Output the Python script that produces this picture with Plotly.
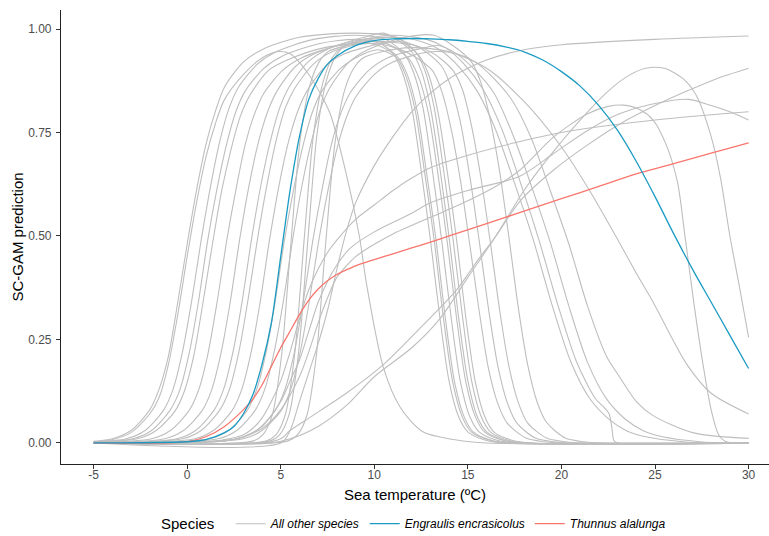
import plotly.graph_objects as go

# ---------------- data ----------------
x_tick_vals = [-5, 0, 5, 10, 15, 20, 25, 30]
x_tick_text = ["-5", "0", "5", "10", "15", "20", "25", "30"]
y_tick_vals = [0, 0.25, 0.5, 0.75, 1.0]
y_tick_text = ["0.00", "0.25", "0.50", "0.75", "1.00"]

# grey curves: "All other species"
g01_x = [-5, -4, -3, -2, -1.5, -1, -0.5, 0, 0.5, 1, 1.5, 2, 3, 4, 6, 9, 11.2, 12.2, 12.7, 13.2, 13.7, 14.2, 14.7, 15.2, 15.7, 16.2, 17.2, 18.5, 30]
g01_y = [0.004, 0.01, 0.03, 0.08, 0.13, 0.21, 0.34, 0.48, 0.61, 0.72, 0.80, 0.86, 0.92, 0.95, 0.98, 0.99, 0.98, 0.945, 0.90, 0.81, 0.66, 0.495, 0.31, 0.15, 0.065, 0.027, 0.006, 0, 0]

g02_x = [-5, -4, -3, -2, -1.5, -1, -0.5, 0, 0.5, 1, 1.5, 2, 3, 4, 4.8, 5.5, 6.5, 7.6, 8.5, 9.2, 9.6, 10.5, 11.4, 12.6, 14.4, 16, 30]
g02_y = [0.003, 0.008, 0.025, 0.07, 0.11, 0.19, 0.31, 0.45, 0.58, 0.69, 0.77, 0.83, 0.89, 0.93, 0.945, 0.94, 0.89, 0.80, 0.65, 0.5, 0.38, 0.18, 0.085, 0.027, 0.007, 0, 0]

g03_x = [-5, -3.25, -2.25, -1.25, -0.75, -0.25, 0.25, 0.75, 1.25, 1.75, 2.25, 2.75, 3.75, 4.75, 6.75, 9, 10.6, 11.6, 12.1, 12.6, 13.1, 13.6, 14.1, 14.6, 15.1, 15.6, 16.6, 17.6, 30]
g03_y = [0.002, 0.01, 0.03, 0.08, 0.13, 0.22, 0.345, 0.49, 0.62, 0.73, 0.81, 0.86, 0.915, 0.945, 0.975, 0.985, 0.975, 0.94, 0.895, 0.81, 0.66, 0.49, 0.305, 0.148, 0.064, 0.027, 0.006, 0, 0]

g04_x = [-5, -2.9, -1.9, -0.9, -0.4, 0.1, 0.6, 1.1, 1.6, 2.1, 2.6, 3.1, 4.1, 5.1, 7.1, 9, 10.3, 11.3, 11.8, 12.3, 12.8, 13.3, 13.8, 14.3, 14.8, 15.3, 16.3, 17.3, 30]
g04_y = [0.002, 0.01, 0.03, 0.08, 0.127, 0.215, 0.34, 0.49, 0.615, 0.72, 0.80, 0.85, 0.905, 0.935, 0.965, 0.975, 0.965, 0.93, 0.885, 0.80, 0.65, 0.49, 0.30, 0.145, 0.063, 0.026, 0.006, 0, 0]

g05_x = [-5, -2.65, -1.65, -0.65, -0.15, 0.35, 0.85, 1.35, 1.85, 2.35, 2.85, 3.35, 4.35, 5.35, 7.35, 10, 11.1, 12.1, 13.1, 13.6, 14.1, 14.6, 15.1, 15.6, 16.1, 16.6, 17.1, 18.1, 19.1, 20.1, 30]
g05_y = [0.002, 0.01, 0.03, 0.077, 0.125, 0.21, 0.34, 0.48, 0.61, 0.71, 0.79, 0.84, 0.90, 0.925, 0.955, 0.965, 0.955, 0.935, 0.90, 0.85, 0.76, 0.635, 0.48, 0.32, 0.18, 0.095, 0.048, 0.012, 0.003, 0, 0]

g06_x = [-5, -1.9, -0.9, 0.1, 0.6, 1.1, 1.6, 2.1, 2.6, 3.1, 3.6, 4.1, 5.1, 6.1, 8.1, 10, 10.9, 11.9, 12.4, 12.9, 13.4, 13.9, 14.4, 14.9, 15.4, 15.9, 16.9, 17.9, 30]
g06_y = [0.001, 0.01, 0.03, 0.078, 0.126, 0.213, 0.34, 0.485, 0.61, 0.72, 0.795, 0.845, 0.90, 0.93, 0.96, 0.97, 0.96, 0.925, 0.88, 0.795, 0.65, 0.485, 0.30, 0.145, 0.063, 0.026, 0.006, 0, 0]

g07_x = [-5, -1.2, -0.2, 0.8, 1.3, 1.8, 2.3, 2.8, 3.3, 3.8, 4.3, 4.8, 5.8, 6.8, 8.8, 11, 11.6, 12.6, 13.6, 14.1, 14.6, 15.1, 15.6, 16.1, 16.6, 17.1, 17.6, 18.6, 19.6, 20.6, 30]
g07_y = [0, 0.01, 0.03, 0.078, 0.127, 0.215, 0.34, 0.49, 0.62, 0.725, 0.80, 0.85, 0.91, 0.94, 0.97, 0.98, 0.97, 0.95, 0.91, 0.86, 0.775, 0.645, 0.49, 0.325, 0.186, 0.098, 0.049, 0.012, 0.003, 0, 0]

g08_x = [-5, -0.55, 0.45, 1.45, 1.95, 2.45, 2.95, 3.45, 3.95, 4.45, 4.95, 5.45, 6.45, 7.45, 9.45, 10.5, 11, 12, 12.5, 13, 13.5, 14, 14.5, 15, 15.5, 16, 17, 18, 30]
g08_y = [0, 0.01, 0.03, 0.08, 0.13, 0.22, 0.345, 0.495, 0.625, 0.73, 0.81, 0.86, 0.92, 0.95, 0.98, 0.99, 0.98, 0.945, 0.90, 0.81, 0.665, 0.495, 0.305, 0.15, 0.064, 0.027, 0.006, 0, 0]

g09_x = [-5, -0.25, 0.75, 1.75, 2.25, 2.75, 3.25, 3.75, 4.25, 4.75, 5.25, 5.75, 6.75, 7.75, 9.75, 11, 11.5, 12, 12.5, 13, 13.5, 14, 14.5, 15, 16, 17, 30]
g09_y = [0, 0.01, 0.03, 0.08, 0.128, 0.217, 0.345, 0.49, 0.62, 0.73, 0.81, 0.857, 0.915, 0.945, 0.965, 0.94, 0.895, 0.81, 0.66, 0.49, 0.305, 0.148, 0.064, 0.027, 0.006, 0, 0]

g10_x = [-5, 0.4, 1.4, 2.4, 2.9, 3.4, 3.9, 4.4, 4.9, 5.4, 5.9, 6.4, 7.4, 8.4, 10.4, 11.4, 12.4, 12.9, 13.4, 13.9, 14.4, 14.9, 15.4, 15.9, 16.4, 17.4, 18.4, 30]
g10_y = [0, 0.01, 0.03, 0.078, 0.127, 0.215, 0.34, 0.49, 0.62, 0.725, 0.80, 0.85, 0.91, 0.94, 0.965, 0.97, 0.935, 0.89, 0.80, 0.655, 0.49, 0.30, 0.147, 0.064, 0.026, 0.006, 0, 0]

g11_x = [-5, 1.2, 2.2, 3.2, 3.7, 4.2, 4.7, 5.2, 5.7, 6.2, 6.7, 7.2, 8.2, 9.2, 10.2, 11.2, 11.7, 12.2, 12.7, 13.2, 13.7, 14.2, 14.7, 15.2, 16.2, 17.2, 30]
g11_y = [0, 0.01, 0.03, 0.078, 0.127, 0.215, 0.34, 0.49, 0.615, 0.72, 0.80, 0.85, 0.905, 0.935, 0.95, 0.93, 0.885, 0.80, 0.65, 0.49, 0.30, 0.145, 0.063, 0.026, 0.006, 0, 0]

g12_x = [-5, 3.55, 4.05, 4.55, 5.05, 5.55, 6.05, 6.55, 7.05, 7.55, 8.55, 10, 12.2, 13.2, 14.2, 14.7, 15.2, 15.7, 16.2, 16.7, 17.2, 17.7, 18.2, 19.2, 20.2, 21.2, 30]
g12_y = [0, 0.005, 0.02, 0.068, 0.213, 0.485, 0.737, 0.863, 0.92, 0.946, 0.96, 0.97, 0.96, 0.94, 0.90, 0.855, 0.765, 0.64, 0.485, 0.32, 0.184, 0.097, 0.048, 0.012, 0.003, 0, 0]

g13_x = [-5, 1.65, 2.65, 3.65, 4.15, 4.65, 5.15, 5.65, 6.15, 6.65, 7.15, 7.65, 8.65, 9.65, 11.65, 13.2, 14.2, 15.2, 15.7, 16.2, 16.7, 17.2, 17.7, 18.2, 18.7, 19.2, 20.2, 21.2, 22.2, 30]
g13_y = [0, 0.01, 0.03, 0.08, 0.13, 0.22, 0.345, 0.495, 0.625, 0.73, 0.81, 0.86, 0.92, 0.95, 0.98, 0.985, 0.96, 0.92, 0.87, 0.78, 0.655, 0.495, 0.325, 0.188, 0.099, 0.05, 0.012, 0.003, 0, 0]

g14_x = [-5, 4.25, 4.75, 5.25, 5.75, 6.25, 6.75, 7.25, 7.75, 8.25, 9.25, 11, 12.5, 13.5, 14.5, 15.5, 16.5, 17.5, 18.5, 19.5, 20.5, 21.5, 22.5, 23.5, 24.5, 26.5, 28, 30]
g14_y = [0, 0.005, 0.02, 0.069, 0.216, 0.49, 0.745, 0.87, 0.93, 0.955, 0.97, 0.98, 0.97, 0.95, 0.91, 0.85, 0.755, 0.627, 0.49, 0.333, 0.196, 0.108, 0.059, 0.029, 0.015, 0.003, 0, 0]

g15_x = [-5, 4.45, 4.95, 5.45, 5.95, 6.45, 6.95, 7.45, 7.95, 8.45, 9.45, 11, 12.8, 13.8, 14.8, 15.8, 16.8, 17.8, 18.8, 19.8, 20.8, 21.8, 22.3, 22.55, 22.7, 22.8, 23.0, 30]
g15_y = [0, 0.005, 0.02, 0.069, 0.217, 0.49, 0.75, 0.877, 0.935, 0.96, 0.975, 0.985, 0.975, 0.955, 0.915, 0.855, 0.76, 0.63, 0.49, 0.335, 0.197, 0.108, 0.085, 0.07, 0.035, 0.006, 0, 0]

g16_x = [-5, 2.7, 3.7, 4.7, 5.2, 5.7, 6.2, 6.7, 7.2, 7.7, 8.2, 8.7, 9.7, 10.7, 12.7, 13.4, 14.4, 15.4, 16.4, 17.4, 18.4, 19.4, 20.4, 21.4, 22.4, 23.4, 24.4, 25.4, 27.4, 29, 30]
g16_y = [0, 0.01, 0.03, 0.078, 0.126, 0.213, 0.34, 0.485, 0.61, 0.72, 0.795, 0.845, 0.90, 0.93, 0.955, 0.96, 0.94, 0.90, 0.845, 0.745, 0.62, 0.485, 0.33, 0.194, 0.107, 0.058, 0.029, 0.015, 0.003, 0, 0]

g17_x = [-5, 3, 4, 5, 5.5, 6, 6.5, 7, 7.5, 8, 8.5, 9, 10, 11, 13, 14.4, 15.4, 16.4, 17.4, 18.4, 19.4, 20.4, 21.4, 22.4, 23.1, 24, 24.9, 27, 30]
g17_y = [0, 0.01, 0.03, 0.077, 0.125, 0.21, 0.335, 0.48, 0.605, 0.71, 0.785, 0.835, 0.89, 0.92, 0.945, 0.94, 0.92, 0.88, 0.825, 0.735, 0.61, 0.48, 0.33, 0.21, 0.16, 0.10, 0.066, 0.025, 0.011]

g18_x = [-5, 5.4, 5.9, 6.4, 6.9, 7.4, 7.9, 8.4, 8.9, 9.4, 10.4, 12, 14, 16, 18, 20, 21.5, 22.9, 24, 24.9, 26.7, 28, 30]
g18_y = [0, 0.005, 0.02, 0.067, 0.21, 0.48, 0.725, 0.85, 0.905, 0.93, 0.945, 0.955, 0.945, 0.905, 0.825, 0.715, 0.61, 0.5, 0.41, 0.34, 0.19, 0.12, 0.07]

w01_x = [-5, 5, 5.5, 6, 6.5, 7, 7.5, 8, 8.5, 9, 10, 11, 12, 13, 14, 15, 16, 18, 20, 25, 30]
w01_y = [0, 0, 0.03, 0.1, 0.17, 0.24, 0.32, 0.42, 0.51, 0.58, 0.67, 0.74, 0.8, 0.845, 0.88, 0.905, 0.925, 0.95, 0.962, 0.975, 0.983]

w02_x = [-5, 4, 5, 5.5, 6.5, 8.5, 10.5, 12.5, 14.4, 15.5, 16.5, 17.8, 19.6, 21.4, 23.1, 25, 26.7, 28.3, 30]
w02_y = [0, 0, 0.01, 0.03, 0.06, 0.12, 0.19, 0.28, 0.37, 0.44, 0.5, 0.585, 0.66, 0.72, 0.77, 0.815, 0.85, 0.88, 0.905]

w03_x = [-5, 4.5, 5.5, 7, 8.5, 10, 12, 13.5, 15, 16.5, 18, 19.5, 21, 22.5, 23.5, 24.5, 25.5, 26.5, 27.2, 28, 28.5, 29, 29.5, 30]
w03_y = [0, 0, 0.01, 0.04, 0.09, 0.16, 0.23, 0.3, 0.4, 0.5, 0.61, 0.7, 0.78, 0.85, 0.885, 0.905, 0.905, 0.88, 0.84, 0.74, 0.64, 0.5, 0.38, 0.255]

k01_x = [-5, 1, 2, 3, 3.5, 4, 4.5, 5, 5.5, 6, 6.5, 7, 7.5, 8, 9, 10, 11, 12, 13, 15, 17.5, 20, 25, 30]
k01_y = [0, 0.003, 0.008, 0.02, 0.035, 0.06, 0.1, 0.15, 0.22, 0.3, 0.37, 0.42, 0.46, 0.49, 0.54, 0.575, 0.61, 0.64, 0.665, 0.695, 0.725, 0.75, 0.78, 0.80]

k02_x = [-5, 2, 3, 4, 5, 5.5, 6, 6.5, 7, 7.5, 8, 8.7, 10, 12, 13, 15, 17.8, 19.6, 21.4, 23.1, 25, 26.8, 28, 29, 30]
k02_y = [0, 0.005, 0.015, 0.04, 0.1, 0.15, 0.2, 0.27, 0.34, 0.39, 0.43, 0.47, 0.51, 0.555, 0.58, 0.61, 0.645, 0.70, 0.755, 0.795, 0.82, 0.83, 0.815, 0.80, 0.78]

k03_x = [-5, 2, 3, 4, 5, 6, 6.5, 7, 7.5, 8, 9, 10, 11, 13, 15, 16.5, 17.8, 19.6, 21.4, 22.5, 23.3, 24.2, 24.9, 25.6, 26.2, 26.6, 27.1, 27.6, 28, 28.4, 28.8, 30]
k03_y = [0, 0.005, 0.015, 0.035, 0.08, 0.16, 0.22, 0.29, 0.35, 0.40, 0.45, 0.48, 0.505, 0.545, 0.585, 0.62, 0.66, 0.74, 0.795, 0.813, 0.816, 0.805, 0.78, 0.72, 0.63, 0.5, 0.33, 0.18, 0.08, 0.02, 0.003, 0]

# Thunnus alalunga (red)
thunnus_x = [-5, 0, 1, 2, 3, 3.5, 4, 4.5, 5, 5.5, 6, 6.5, 7, 7.5, 8, 8.5, 9, 10, 11, 12, 13, 14, 16, 18, 20, 22, 24, 26, 28, 30]
thunnus_y = [0, 0.003, 0.015, 0.04, 0.08, 0.105, 0.14, 0.185, 0.23, 0.27, 0.31, 0.345, 0.372, 0.392, 0.407, 0.418, 0.428, 0.443, 0.457, 0.471, 0.485, 0.5, 0.53, 0.56, 0.59, 0.62, 0.65, 0.675, 0.70, 0.725]

# Engraulis encrasicolus (blue)
engraulis_x = [-5, 0, 1, 2, 2.5, 3, 3.5, 4, 4.5, 5, 5.5, 6, 6.5, 7, 7.5, 8, 9, 10, 11, 12, 13, 14, 15, 16, 17, 18, 19, 20, 21, 22, 23, 24, 25, 26, 27, 28, 29, 30]
engraulis_y = [0, 0.003, 0.008, 0.025, 0.04, 0.07, 0.115, 0.19, 0.29, 0.45, 0.61, 0.74, 0.83, 0.88, 0.915, 0.935, 0.96, 0.972, 0.976, 0.977, 0.976, 0.974, 0.97, 0.965, 0.957, 0.945, 0.925, 0.897, 0.862, 0.815, 0.755, 0.68, 0.595, 0.505, 0.42, 0.34, 0.26, 0.18]

grey_curves = [
    (g01_x, g01_y), (g02_x, g02_y), (g03_x, g03_y), (g04_x, g04_y), (g05_x, g05_y),
    (g06_x, g06_y), (g07_x, g07_y), (g08_x, g08_y), (g09_x, g09_y), (g10_x, g10_y),
    (g11_x, g11_y), (g12_x, g12_y), (g13_x, g13_y), (g14_x, g14_y), (g15_x, g15_y),
    (g16_x, g16_y), (g17_x, g17_y), (g18_x, g18_y), (w01_x, w01_y), (w02_x, w02_y),
    (w03_x, w03_y), (k01_x, k01_y), (k02_x, k02_y), (k03_x, k03_y),
]

GREY = "#BEBEBE"
BLUE = "#1B9BC2"
RED = "#F8766D"
FONT = "Liberation Sans, Arial, sans-serif"

fig = go.Figure()
for i, (xs, ys) in enumerate(grey_curves):
    fig.add_trace(go.Scatter(
        x=xs, y=ys, mode="lines",
        line=dict(color=GREY, width=1.1, shape="spline", smoothing=0.8),
        name="<i>All other species</i>", legendgroup="other",
        showlegend=(i == 0), legendrank=1, hoverinfo="skip",
    ))

fig.add_trace(go.Scatter(
    x=thunnus_x, y=thunnus_y, mode="lines",
    line=dict(color=RED, width=1.3, shape="spline", smoothing=0.8),
    name="<i>Thunnus alalunga</i>", legendrank=3,
))
fig.add_trace(go.Scatter(
    x=engraulis_x, y=engraulis_y, mode="lines",
    line=dict(color=BLUE, width=1.3, shape="spline", smoothing=0.8),
    name="<i>Engraulis encrasicolus</i>", legendrank=2,
))

fig.update_layout(
    width=769, height=536,
    margin=dict(l=61, r=0, t=10, b=72, autoexpand=False),
    paper_bgcolor="white", plot_bgcolor="white",
    font=dict(family=FONT, color="#000000"),
    legend=dict(
        orientation="h", x=0.5, xanchor="center", xref="paper",
        y=0.022, yanchor="middle", yref="container",
        title=dict(text="Species  ", side="left", font=dict(size=15, color="#000000")),
        font=dict(size=12, color="#000000"),
        itemwidth=30, tracegroupgap=0,
    ),
)
fig.update_xaxes(
    range=[-6.74, 31.09], tickvals=x_tick_vals, ticktext=x_tick_text,
    showgrid=False, zeroline=False, automargin=False,
    showline=True, linecolor="#222222", linewidth=1.1,
    ticks="outside", ticklen=4, tickwidth=1, tickcolor="#333333",
    ticklabelstandoff=-4,
    tickfont=dict(size=12, color="#4D4D4D"),
    title=dict(text="Sea temperature (ºC)", font=dict(size=15, color="#000000"), standoff=8),
)
fig.update_yaxes(
    range=[-0.0508, 1.0459], tickvals=y_tick_vals, ticktext=y_tick_text,
    showgrid=False, zeroline=False, automargin=False,
    showline=True, linecolor="#222222", linewidth=1.1,
    ticks="outside", ticklen=4, tickwidth=1, tickcolor="#333333",
    ticklabelstandoff=2,
    tickfont=dict(size=12, color="#4D4D4D"),
    title=dict(text="SC-GAM prediction", font=dict(size=15, color="#000000"), standoff=0),
)

fig.write_html(
    "out.html",
    config={"displayModeBar": False},
    post_script="document.body.style.margin='0';",
)
